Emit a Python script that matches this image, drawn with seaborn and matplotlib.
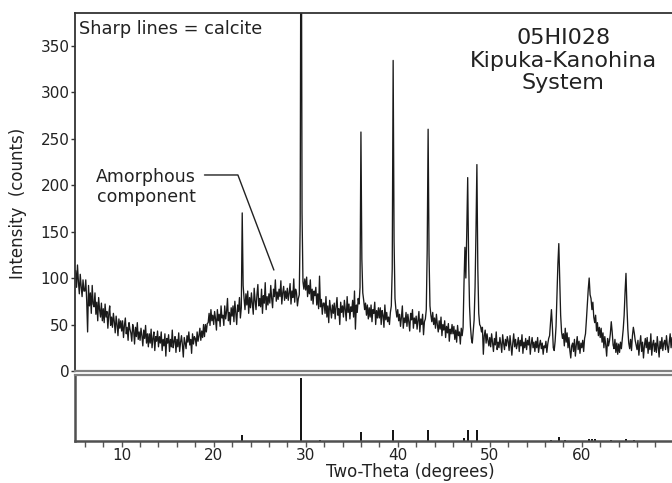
import numpy as np
import pandas as pd
import seaborn as sns
import matplotlib.pyplot as plt
from matplotlib.ticker import MultipleLocator

# ---------------- data ----------------
scan_start = 5.0      # degrees two-theta
scan_step = 0.1       # degrees per point

intensity_05_15 = [
    108, 90, 114, 96, 83, 104, 91, 80, 98, 86,
    86, 98, 76, 42, 92, 70, 84, 62, 92, 72,
    69, 84, 61, 74, 54, 79, 66, 58, 73, 54,
    67, 52, 72, 58, 64, 46, 61, 70, 49, 58,
    47, 62, 53, 41, 59, 50, 38, 56, 46, 54,
    43, 54, 36, 49, 57, 40, 47, 33, 52, 45,
    41, 32, 50, 44, 29, 47, 37, 52, 34, 42,
    33, 46, 38, 27, 44, 35, 49, 30, 40, 26,
    40, 30, 45, 25, 35, 42, 22, 37, 32, 43,
    26, 37, 30, 42, 22, 34, 27, 40, 16, 35,
]
intensity_15_25 = [
    30, 39, 21, 34, 26, 44, 25, 32, 37, 20,
    34, 26, 41, 21, 31, 38, 28, 15, 36, 30,
    24, 38, 31, 42, 28, 34, 19, 40, 29, 37,
    35, 27, 42, 32, 38, 46, 33, 43, 36, 50,
    37, 50, 42, 51, 52, 62, 49, 66, 54, 60,
    50, 64, 56, 44, 66, 54, 61, 48, 70, 57,
    60, 49, 70, 56, 64, 78, 54, 63, 50, 68,
    59, 70, 53, 75, 62, 50, 71, 64, 79, 57,
    68, 170, 92, 78, 66, 83, 71, 86, 62, 79,
    68, 84, 73, 61, 89, 76, 66, 82, 93, 70,
]
intensity_25_35 = [
    78, 69, 88, 62, 81, 73, 95, 66, 80, 71,
    83, 73, 92, 78, 68, 88, 80, 98, 75, 85,
    77, 88, 80, 97, 72, 84, 91, 76, 86, 78,
    89, 76, 84, 94, 72, 86, 79, 99, 74, 88,
    84, 70, 78, 82, 160, 620, 170, 96, 88, 99,
    87, 101, 80, 92, 83, 98, 76, 88, 72, 86,
    81, 90, 71, 83, 67, 102, 69, 77, 61, 73,
    73, 62, 80, 58, 70, 52, 76, 66, 57, 71,
    62, 73, 56, 69, 79, 60, 67, 50, 74, 63,
    70, 58, 76, 66, 54, 80, 63, 72, 56, 69,
]
intensity_35_45 = [
    64, 76, 58, 86, 45, 71, 63, 78, 72, 90,
    257, 120, 84, 76, 66, 73, 60, 71, 56, 68,
    58, 71, 53, 66, 62, 74, 50, 65, 57, 68,
    57, 68, 50, 65, 60, 47, 71, 55, 63, 53,
    58, 50, 63, 70, 110, 334, 140, 78, 66, 58,
    66, 54, 61, 48, 58, 70, 46, 57, 52, 63,
    48, 61, 53, 43, 62, 55, 66, 46, 57, 51,
    59, 45, 54, 64, 42, 56, 50, 61, 39, 53,
    56, 66, 130, 260, 125, 70, 60, 53, 63, 50,
    57, 46, 61, 50, 42, 54, 45, 58, 38, 50,
]
intensity_45_55 = [
    44, 54, 36, 48, 41, 51, 32, 45, 40, 50,
    40, 48, 34, 44, 31, 49, 38, 42, 29, 46,
    38, 47, 95, 133, 100, 150, 208, 120, 70, 48,
    35, 30, 42, 55, 90, 150, 222, 110, 62, 50,
    48, 42, 47, 18, 38, 44, 30, 40, 33, 27,
    36, 26, 40, 30, 21, 35, 28, 42, 23, 31,
    25, 36, 29, 20, 39, 30, 23, 34, 27, 37,
    32, 22, 38, 28, 17, 30, 40, 26, 34, 24,
    29, 36, 21, 33, 27, 39, 19, 31, 25, 35,
    23, 33, 28, 37, 18, 29, 36, 25, 31, 21,
]
intensity_55_65 = [
    32, 25, 36, 20, 28, 33, 24, 30, 18, 27,
    25, 32, 20, 29, 35, 38, 52, 66, 48, 25,
    22, 32, 48, 80, 115, 137, 100, 60, 42, 35,
    40, 27, 46, 31, 41, 25, 36, 22, 14, 27,
    30, 21, 34, 16, 28, 37, 23, 32, 19, 30,
    25, 33, 21, 35, 40, 55, 72, 88, 100, 82,
    78, 66, 74, 58, 52, 60, 43, 52, 38, 47,
    36, 46, 31, 41, 25, 37, 28, 16, 35, 27,
    32, 40, 53, 42, 28, 24, 34, 20, 30, 18,
    29, 20, 31, 24, 35, 45, 60, 85, 105, 70,
]
intensity_65_70 = [
    45, 30, 24, 34, 22, 38, 47, 41, 33, 28,
    23, 33, 17, 29, 38, 21, 31, 14, 27, 35,
    25, 36, 19, 31, 23, 40, 17, 29, 33, 21,
    30, 20, 37, 26, 15, 32, 24, 36, 22, 30,
    33, 23, 38, 27, 20, 31, 40, 25, 36, 29,
    30,
]

# calcite reference pattern (stick positions, relative intensity %)
calcite_two_theta = [23.1, 29.5, 31.5, 36.05, 39.5, 43.25, 47.2, 47.6, 48.6,
                     56.7, 57.5, 58.2, 60.8, 61.1, 61.4, 63.2, 64.8, 65.7]
calcite_rel_int = [10, 100, 2, 14, 17, 18, 4, 17, 17,
                   2, 7, 1.5, 3, 3.5, 3, 1.5, 3, 2]

y_ticks = [0, 50, 100, 150, 200, 250, 300, 350]
x_ticks = [10, 20, 30, 40, 50, 60]

sample_title = "05HI028\nKipuka-Kanohina\nSystem"
note_text = "Sharp lines = calcite"
amorph_text = "Amorphous\ncomponent"

# ---------------- build table ----------------
intensity = np.array(intensity_05_15 + intensity_15_25 + intensity_25_35 +
                     intensity_35_45 + intensity_45_55 + intensity_55_65 +
                     intensity_65_70, dtype=float)
two_theta = np.round(scan_start + scan_step * np.arange(len(intensity)), 2)
df = pd.DataFrame({"two_theta": two_theta, "intensity": intensity})

# ---------------- figure ----------------
sns.set_theme(style="white")
plt.rcParams['font.family'] = ['DejaVu Sans']
text_color = "#222222"

fig = plt.figure(figsize=(6.72, 4.83), dpi=100)
ax = fig.add_axes([75 / 672, 1 - 371 / 483, 597 / 672, 358 / 483])
ax2 = fig.add_axes([75 / 672, 1 - 441 / 483, 597 / 672, 66 / 483], sharex=ax)

sns.lineplot(data=df, x="two_theta", y="intensity", ax=ax, color="#1a1a1a",
             linewidth=0.95, estimator=None, sort=False)

ax.set_xlim(4.93, 69.8)
ax.set_ylim(0, 385)
ax.set_yticks(y_ticks)
ax.set_xlabel("")
ax.set_ylabel("")
ax.tick_params(axis="x", bottom=False, labelbottom=False)
ax.tick_params(axis="y", left=True, length=3, width=1, color="#333333",
               labelsize=11, labelcolor=text_color, pad=1)
for side in ["left", "top"]:
    ax.spines[side].set_color("#333333")
    ax.spines[side].set_linewidth(1.3)
ax.spines["right"].set_visible(False)
ax.spines["bottom"].set_color("#808080")
ax.spines["bottom"].set_linewidth(1.6)

# stick pattern
ax2.vlines(calcite_two_theta, 0, calcite_rel_int, color="#111111", linewidth=1.4)
ax2.set_ylim(0, 105)
ax2.set_yticks([])
ax2.xaxis.set_major_locator(plt.FixedLocator(x_ticks))
ax2.xaxis.set_minor_locator(MultipleLocator(2))
ax2.tick_params(axis="x", which="both", bottom=True, direction="out", length=4,
                width=1, color="#555555", labelsize=11, labelcolor=text_color, pad=1)
ax2.spines["right"].set_visible(False)
ax2.spines["top"].set_color("#808080")
ax2.spines["top"].set_linewidth(1.6)
for side in ["left", "bottom"]:
    ax2.spines[side].set_color("#505050")
    ax2.spines[side].set_linewidth(1.8)
ax2.set_xlabel("")
ax2.set_ylabel("")

# texts
ax.text(0.007, 0.98, note_text, transform=ax.transAxes, ha="left", va="top",
        fontsize=12.8, color=text_color)
ax.text(0.818, 0.958, sample_title, transform=ax.transAxes, ha="center", va="top",
        fontsize=16, color=text_color, linespacing=1.17)

amorph_label_xy = (12.64, 198)
leader_x = [19.0, 22.63, 26.54]
leader_y = [210.8, 210.8, 108.6]
ax.text(*amorph_label_xy, amorph_text, ha="center", va="center",
        fontsize=12.5, color=text_color, linespacing=1.15)
ax.plot(leader_x, leader_y, color="#222222", linewidth=1.0)

fig.text(410 / 672, 1 - 472 / 483, "Two-Theta (degrees)", ha="center", va="center",
         fontsize=12, color=text_color)
fig.text(18 / 672, 1 - 203 / 483, "Intensity  (counts)", ha="center", va="center",
         rotation=90, fontsize=12, color=text_color)

fig.savefig("out.png", dpi=100)
